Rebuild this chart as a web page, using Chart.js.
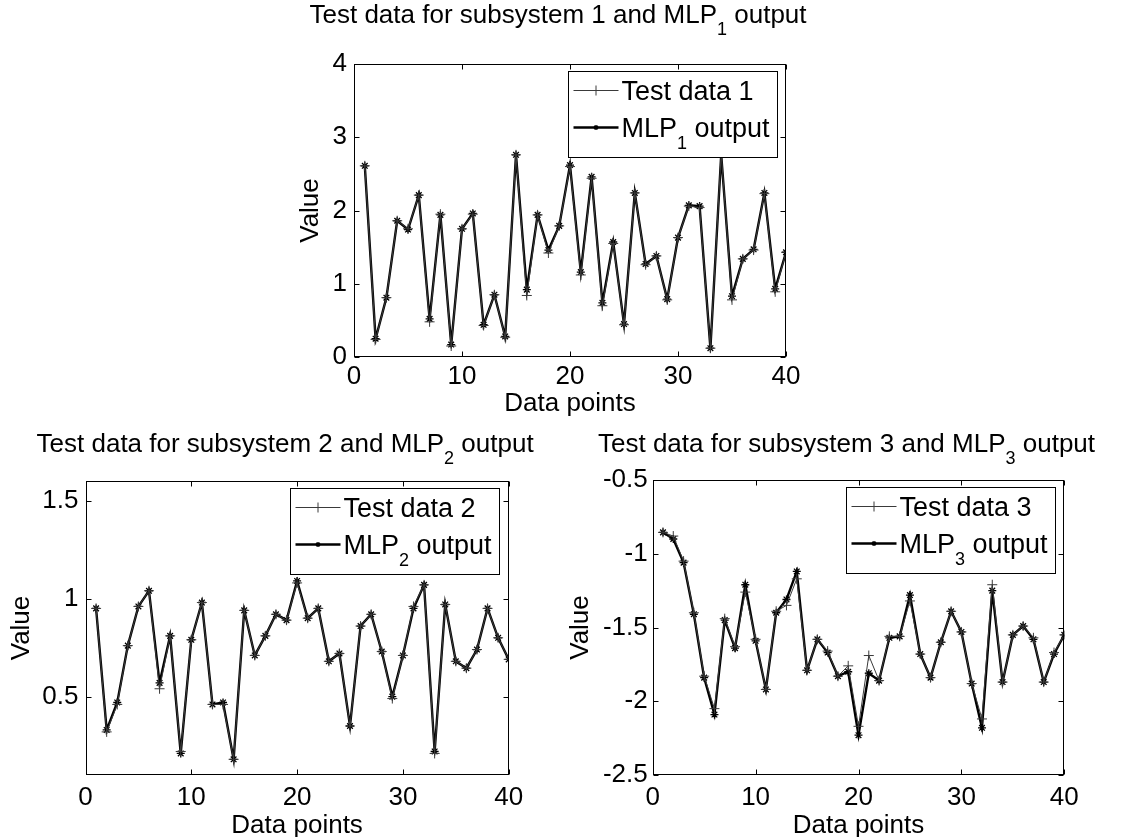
<!DOCTYPE html>
<html>
<head>
<meta charset="utf-8">
<script src="https://cdn.jsdelivr.net/npm/chart.js@4/dist/chart.umd.min.js"></script>
<style>
  html, body { margin: 0; padding: 0; background: #fff; }
  body { width: 1129px; height: 837px; position: relative; overflow: hidden; }
  canvas { position: absolute; }
</style>
</head>
<body>
<canvas id="sub1" width="620" height="430" style="left:240px;top:0px"></canvas>
<canvas id="sub2" width="560" height="437" style="left:0px;top:400px"></canvas>
<canvas id="sub3" width="569" height="437" style="left:560px;top:400px"></canvas>
<script>
// Sample index along the horizontal axis
const dataPoints = [1, 2, 3, 4, 5, 6, 7, 8, 9, 10, 11, 12, 13, 14, 15, 16, 17, 18, 19, 20,
                    21, 22, 23, 24, 25, 26, 27, 28, 29, 30, 31, 32, 33, 34, 35, 36, 37, 38, 39, 40];

// Subsystem 1
const testData1 = [2.61, 0.24, 0.81, 1.86, 1.75, 2.21, 0.48, 1.95, 0.15, 1.75, 1.95, 0.43, 0.85, 0.27, 2.76, 0.84, 1.94, 1.42, 1.79, 2.60,
                   1.12, 2.44, 0.70, 1.55, 0.44, 2.24, 1.26, 1.38, 0.78, 1.63, 2.06, 2.04, 0.12, 2.78, 0.78, 1.34, 1.46, 2.23, 0.89, 1.43];
const mlpOutput1 = [2.61, 0.25, 0.81, 1.86, 1.74, 2.21, 0.52, 1.94, 0.17, 1.75, 1.96, 0.44, 0.85, 0.28, 2.76, 0.92, 1.94, 1.46, 1.79, 2.62,
                    1.16, 2.46, 0.74, 1.57, 0.45, 2.24, 1.27, 1.38, 0.79, 1.63, 2.07, 2.06, 0.12, 2.76, 0.83, 1.34, 1.47, 2.24, 0.93, 1.43];

// Subsystem 2
const testData2 = [0.95, 0.32, 0.46, 0.76, 0.96, 1.04, 0.54, 0.81, 0.22, 0.79, 0.98, 0.46, 0.46, 0.18, 0.94, 0.71, 0.81, 0.92, 0.89, 1.08,
                   0.90, 0.95, 0.68, 0.72, 0.35, 0.86, 0.92, 0.73, 0.49, 0.71, 0.96, 1.07, 0.21, 0.97, 0.68, 0.645, 0.74, 0.95, 0.80, 0.69];
const mlpOutput2 = [0.95, 0.33, 0.47, 0.76, 0.96, 1.04, 0.57, 0.81, 0.21, 0.79, 0.98, 0.46, 0.47, 0.18, 0.94, 0.71, 0.81, 0.92, 0.89, 1.09,
                    0.90, 0.95, 0.68, 0.72, 0.35, 0.86, 0.92, 0.73, 0.50, 0.71, 0.95, 1.07, 0.22, 0.97, 0.68, 0.645, 0.74, 0.95, 0.80, 0.69];

// Subsystem 3
const testData3 = [-0.855, -0.88, -1.05, -1.40, -1.83, -2.05, -1.44, -1.63, -1.26, -1.58, -1.92, -1.39, -1.35, -1.17, -1.79, -1.58, -1.66, -1.83, -1.76, -2.17,
                   -1.69, -1.86, -1.56, -1.56, -1.32, -1.68, -1.84, -1.60, -1.39, -1.53, -1.88, -2.12, -1.21, -1.87, -1.55, -1.49, -1.57, -1.87, -1.67, -1.55];
const mlpOutput3 = [-0.855, -0.90, -1.06, -1.41, -1.84, -2.09, -1.45, -1.64, -1.21, -1.59, -1.92, -1.40, -1.31, -1.12, -1.79, -1.58, -1.67, -1.83, -1.80, -2.23,
                    -1.81, -1.86, -1.57, -1.56, -1.28, -1.68, -1.84, -1.60, -1.39, -1.53, -1.88, -2.18, -1.25, -1.87, -1.55, -1.49, -1.58, -1.87, -1.68, -1.55];

// Tick values
const xTicks = [0, 10, 20, 30, 40];
const yTicks1 = [0, 1, 2, 3, 4];
const yTicks2 = [0.5, 1, 1.5];
const yTicks3 = [-2.5, -2, -1.5, -1, -0.5];

const FONT = "'Liberation Sans', Arial, Helvetica, sans-serif";
Chart.defaults.font.family = FONT;
Chart.defaults.color = '#000';

// Axes box with inward tick marks on all four sides
const frameTicks = {
  id: 'frameTicks',
  afterDatasetsDraw(chart) {
    const { ctx, chartArea: a, scales } = chart;
    const L = 5;
    ctx.save();
    ctx.strokeStyle = '#000';
    ctx.lineWidth = 1;
    const l = Math.round(a.left) + 0.5, r = Math.round(a.right) - 0.5;
    const t = Math.round(a.top) + 0.5, b = Math.round(a.bottom) - 0.5;
    ctx.strokeRect(l, t, r - l, b - t);
    ctx.beginPath();
    scales.x.ticks.forEach(tk => {
      const px = Math.round(scales.x.getPixelForValue(tk.value)) + 0.5;
      ctx.moveTo(px, b); ctx.lineTo(px, b - L);
      ctx.moveTo(px, t); ctx.lineTo(px, t + L);
    });
    scales.y.ticks.forEach(tk => {
      const py = Math.round(scales.y.getPixelForValue(tk.value)) + 0.5;
      ctx.moveTo(l, py); ctx.lineTo(l + L, py);
      ctx.moveTo(r, py); ctx.lineTo(r - L, py);
    });
    ctx.stroke();
    ctx.restore();
  }
};

// Text with a lowered subscript part: [before, subscript, after]
function drawSubText(ctx, parts, x, y, size, subSize, subDrop, measureOnly) {
  ctx.font = size + 'px ' + FONT;
  const w0 = ctx.measureText(parts[0]).width;
  const w2 = ctx.measureText(parts[2]).width;
  ctx.font = subSize + 'px ' + FONT;
  const w1 = ctx.measureText(parts[1]).width;
  if (measureOnly) return w0 + w1 + w2;
  ctx.textBaseline = 'alphabetic';
  ctx.textAlign = 'left';
  ctx.font = size + 'px ' + FONT;
  ctx.fillText(parts[0], x, y);
  ctx.font = subSize + 'px ' + FONT;
  ctx.fillText(parts[1], x + w0, y + subDrop);
  ctx.font = size + 'px ' + FONT;
  ctx.fillText(parts[2], x + w0 + w1, y);
  return w0 + w1 + w2;
}

const subTitle = {
  id: 'subTitle',
  afterDraw(chart, args, opts) {
    const { ctx, chartArea: a } = chart;
    ctx.save();
    ctx.fillStyle = '#000';
    const w = drawSubText(ctx, opts.parts, 0, 0, opts.size, opts.subSize, opts.subDrop, true);
    const x = (a.left + a.right) / 2 + opts.shift - w / 2;
    drawSubText(ctx, opts.parts, x, opts.baseline, opts.size, opts.subSize, opts.subDrop, false);
    ctx.restore();
  }
};

function drawMarker(ctx, style, x, y, r) {
  ctx.beginPath();
  if (style === 'cross' || style === 'star') {
    ctx.moveTo(x - r, y); ctx.lineTo(x + r, y);
    ctx.moveTo(x, y - r); ctx.lineTo(x, y + r);
  }
  if (style === 'star') {
    const d = r * Math.SQRT1_2;
    ctx.moveTo(x - d, y - d); ctx.lineTo(x + d, y + d);
    ctx.moveTo(x - d, y + d); ctx.lineTo(x + d, y - d);
  }
  ctx.stroke();
}

// Boxed legend in the upper right corner of the axes
const boxLegend = {
  id: 'boxLegend',
  afterDraw(chart, args, opts) {
    const { ctx, chartArea: a } = chart;
    const w = 209, h = 86;
    const left = Math.round(a.right - opts.right - w) + 0.5;
    const top = Math.round(a.top + opts.top) + 0.5;
    ctx.save();
    ctx.fillStyle = '#fff';
    ctx.fillRect(left, top, w, h);
    ctx.strokeStyle = '#000';
    ctx.lineWidth = 1;
    ctx.strokeRect(left, top, w, h);
    chart.data.datasets.forEach((ds, i) => {
      const base = top + 28 + i * 37;
      const ly = Math.round(base - 10) + 0.5;
      ctx.strokeStyle = ds.borderColor;
      ctx.lineWidth = ds.borderWidth;
      ctx.beginPath();
      ctx.moveTo(left + 5, ly); ctx.lineTo(left + 50, ly);
      ctx.stroke();
      ctx.lineWidth = ds.pointBorderWidth;
      drawMarker(ctx, ds.pointStyle, left + 27.5, ly, i === 0 ? 5 : 2.5);
      ctx.fillStyle = '#000';
      drawSubText(ctx, ds.labelParts, left + 53, base, 27, 18, 12, false);
    });
    ctx.restore();
  }
};

function series(values) {
  return dataPoints.map((x, i) => ({ x: x, y: values[i] }));
}

function makeSubplot(id, cfg) {
  return new Chart(document.getElementById(id), {
    type: 'line',
    data: {
      datasets: [
        {
          label: cfg.testParts.join(''),
          labelParts: cfg.testParts,
          data: series(cfg.test),
          borderColor: '#3a3a3a',
          borderWidth: 1,
          pointStyle: 'cross',
          pointRadius: 5,
          pointBorderWidth: 1,
          pointBorderColor: '#3a3a3a',
          pointBackgroundColor: '#3a3a3a',
          fill: false,
          tension: 0
        },
        {
          label: cfg.mlpParts.join(''),
          labelParts: cfg.mlpParts,
          data: series(cfg.mlp),
          borderColor: '#000',
          borderWidth: 2.4,
          pointStyle: 'star',
          pointRadius: 4,
          pointBorderWidth: 1.3,
          pointBorderColor: '#000',
          pointBackgroundColor: '#000',
          fill: false,
          tension: 0
        }
      ]
    },
    options: {
      responsive: false,
      animation: false,
      events: [],
      layout: { padding: cfg.pad },
      plugins: {
        legend: { display: false },
        tooltip: { enabled: false },
        subTitle: { parts: cfg.titleParts, size: 26, subSize: 18, subDrop: 12, baseline: cfg.titleBaseline, shift: -12 },
        boxLegend: { right: 9.5, top: 6.5 }
      },
      scales: {
        x: {
          type: 'linear',
          min: 0,
          max: 40,
          afterBuildTicks: s => { s.ticks = xTicks.map(v => ({ value: v })); },
          afterFit: s => { s.height = cfg.xh; },
          grid: { display: false, drawTicks: false, tickLength: 0 },
          border: { display: false },
          ticks: { color: '#000', font: { size: 26, lineHeight: 1 }, padding: cfg.xTickPad, maxRotation: 0, autoSkip: false, callback: v => String(v) },
          title: { display: true, text: 'Data points', color: '#000', font: { size: 26, lineHeight: 1 }, padding: { top: 0, bottom: cfg.xTitlePad } }
        },
        y: {
          type: 'linear',
          min: cfg.yMin,
          max: cfg.yMax,
          afterBuildTicks: s => { s.ticks = cfg.yTicks.map(v => ({ value: v })); },
          afterFit: s => { s.width = cfg.yw; },
          grid: { display: false, drawTicks: false, tickLength: 0 },
          border: { display: false },
          ticks: { color: '#000', font: { size: 26, lineHeight: 1 }, padding: cfg.yTickPad, autoSkip: false, callback: v => String(v) },
          title: { display: true, text: 'Value', color: '#000', font: { size: 26, lineHeight: 1 }, padding: { top: cfg.yTitlePad, bottom: 0 } }
        }
      }
    },
    plugins: [frameTicks, subTitle, boxLegend]
  });
}

makeSubplot('sub1', {
  test: testData1, mlp: mlpOutput1,
  testParts: ['Test data 1', '', ''], mlpParts: ['MLP', '1', ' output'],
  titleParts: ['Test data for subsystem 1 and MLP', '1', ' output'], titleBaseline: 23,
  yMin: 0, yMax: 4, yTicks: yTicks1,
  pad: { left: 0, top: 64, right: 74, bottom: 0 },
  yw: 114, xh: 73, xTickPad: 7, xTitlePad: 13, yTitlePad: 58, yTickPad: 7
});

makeSubplot('sub2', {
  test: testData2, mlp: mlpOutput2,
  testParts: ['Test data 2', '', ''], mlpParts: ['MLP', '2', ' output'],
  titleParts: ['Test data for subsystem 2 and MLP', '2', ' output'], titleBaseline: 52,
  yMin: 0.1, yMax: 1.6, yTicks: yTicks2,
  pad: { left: 0, top: 81, right: 51.3, bottom: 0 },
  yw: 85.5, xh: 62, xTickPad: 10, xTitlePad: -2, yTitlePad: 9.2, yTickPad: 7
});

makeSubplot('sub3', {
  test: testData3, mlp: mlpOutput3,
  testParts: ['Test data 3', '', ''], mlpParts: ['MLP', '3', ' output'],
  titleParts: ['Test data for subsystem 3 and MLP', '3', ' output'], titleBaseline: 52,
  yMin: -2.5, yMax: -0.5, yTicks: yTicks3,
  pad: { left: 0, top: 80, right: 64.7, bottom: 0 },
  yw: 92.7, xh: 62, xTickPad: 10, xTitlePad: -2, yTitlePad: 7.8, yTickPad: 5
});
</script>
</body>
</html>
